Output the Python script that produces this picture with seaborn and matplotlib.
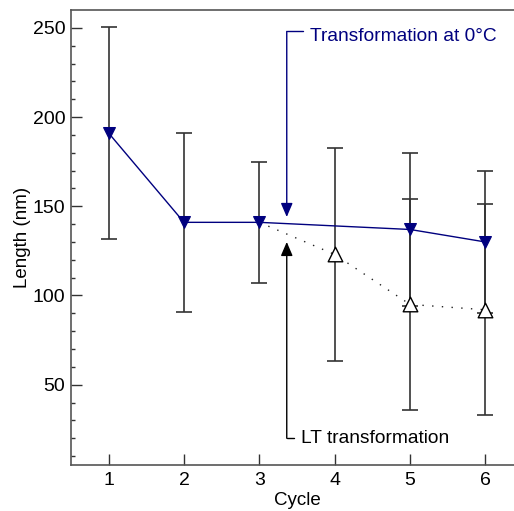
import matplotlib
matplotlib.use("Agg")
import matplotlib.pyplot as plt
import seaborn as sns
import pandas as pd

# data
cycle_0c = [1, 2, 3, 5, 6]
length_0c = [191, 141, 141, 137, 130]
err_0c = [59.5, 50, 34, 43, 40]

cycle_lt = [3, 4, 5, 6]
length_lt = [141, 123, 95, 92]
err_lt = [None, 59.5, 59, 59]

x_ticks = [1, 2, 3, 4, 5, 6]
y_ticks = [50, 100, 150, 200, 250]

sns.set_theme(style="white")
plt.rcParams['font.family'] = ['Liberation Sans', 'DejaVu Sans']
plt.rcParams['xtick.direction'] = 'in'
plt.rcParams['ytick.direction'] = 'in'

navy = "#00007f"
dark = "#333333"

fig = plt.figure(figsize=(5.14, 5.11), dpi=100)
W, H = 514, 511
left, right, top, bottom = 71, 523, 10, 465
ax = fig.add_axes([left / W, 1 - bottom / H, (right - left) / W, (bottom - top) / H])

df0 = pd.DataFrame({"Cycle": cycle_0c, "Length": length_0c, "err": err_0c})
dfl = pd.DataFrame({"Cycle": cycle_lt, "Length": length_lt, "err": err_lt})

# error bars
ax.errorbar(df0["Cycle"], df0["Length"], yerr=df0["err"], fmt="none",
            ecolor=dark, elinewidth=1.2, capsize=5.5, capthick=1.2, zorder=2)
dfe = dfl.dropna()
ax.errorbar(dfe["Cycle"], dfe["Length"], yerr=dfe["err"], fmt="none",
            ecolor=dark, elinewidth=1.2, capsize=5.5, capthick=1.2, zorder=2)

# lines
sns.lineplot(data=df0, x="Cycle", y="Length", ax=ax, color=navy, linewidth=1.0,
             marker="v", markersize=9, markeredgecolor=navy, markerfacecolor=navy,
             zorder=4)
sns.lineplot(data=dfl, x="Cycle", y="Length", ax=ax, color="#222222", linewidth=1.0,
             linestyle=(0, (1, 6)), zorder=3)
sns.scatterplot(data=dfl.iloc[1:], x="Cycle", y="Length", ax=ax, marker="^", s=110,
                facecolor="white", edgecolor="black", linewidth=1.0, zorder=5)

ax.set_xlim(0.5, 6.5)
ax.set_ylim(5, 260)
ax.set_xticks(x_ticks)
ax.set_yticks(y_ticks)
ax.set_yticks(range(10, 260, 10), minor=True)
ax.set_xlabel("Cycle", fontsize=13.5, labelpad=2, color="black")
ax.set_ylabel("Length (nm)", fontsize=13.5, labelpad=1, color="black")
ax.tick_params(axis="both", which="major", direction="in", length=8, width=1,
               color=dark, labelsize=14, labelcolor="black", pad=4)
ax.tick_params(axis="y", which="minor", direction="in", length=3, width=1,
               color=dark, left=True)
ax.tick_params(axis="x", which="major", bottom=True, pad=5)
ax.tick_params(axis="y", which="major", left=True)
for s in ax.spines.values():
    s.set_color("#555555")
    s.set_linewidth(1.2)

# annotations
ax.annotate("", xy=(3.364, 144), xytext=(3.364, 248),
            arrowprops=dict(arrowstyle="-|>,head_length=0.7,head_width=0.3", color=navy,
                            lw=1.0, shrinkA=0, shrinkB=0))
ax.plot([3.364, 3.58], [248, 248], color=navy, lw=1.0)
ax.text(3.67, 245, "Transformation at 0°C", color=navy, fontsize=13.8, va="center", ha="left")

ax.annotate("", xy=(3.364, 130), xytext=(3.364, 20),
            arrowprops=dict(arrowstyle="-|>,head_length=0.7,head_width=0.3", color="black",
                            lw=1.0, shrinkA=0, shrinkB=0))
ax.plot([3.364, 3.46], [20, 20], color="black", lw=1.0)
ax.text(3.55, 20, "LT transformation", color="black", fontsize=13.8, va="center", ha="left")

fig.savefig("out.png", dpi=100)
